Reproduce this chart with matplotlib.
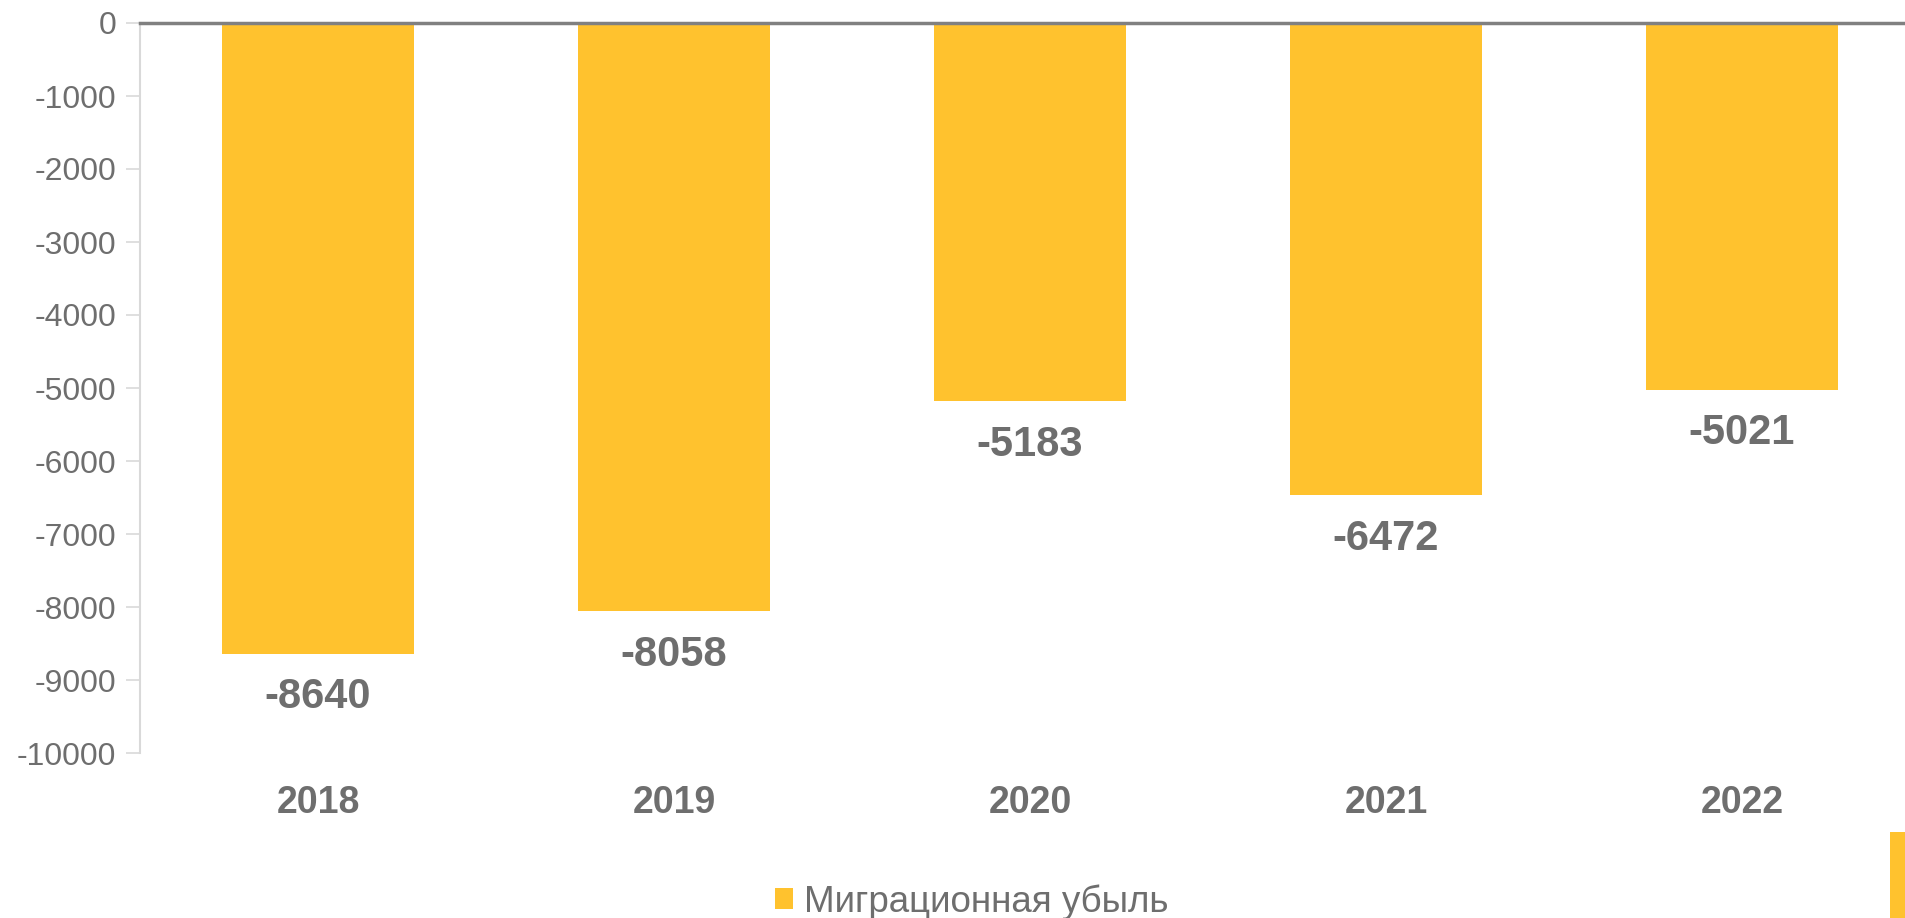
import matplotlib
matplotlib.use("Agg")
import matplotlib.pyplot as plt
from matplotlib.patches import Rectangle

years = ["2018", "2019", "2020", "2021", "2022"]
values = [-8640, -8058, -5183, -6472, -5021]
yticks = list(range(0, -10001, -1000))
series_name = "Миграционная убыль"

bar_color = "#FFC22E"
text_color = "#6E6E6E"

plt.rcParams['font.family'] = ['Liberation Sans', 'DejaVu Sans']

fig = plt.figure(figsize=(19.05, 9.18), dpi=100)
ax = fig.add_axes([140/1905, 1-753/918, 1780/1905, (753-23)/918])

x = list(range(len(years)))
ax.bar(x, values, width=0.54, color=bar_color, label=series_name, zorder=2)

ax.set_xlim(-0.5, 4.5)
ax.set_ylim(-10000, 0)
ax.set_yticks(yticks)
ax.set_yticklabels([str(v) for v in yticks], fontsize=23, color=text_color)
ax.tick_params(axis='y', length=10, width=1.2, color="#D9D9D9", pad=7)
ax.set_xticks([])

for s in ["top", "right", "bottom"]:
    ax.spines[s].set_visible(False)
ax.spines["left"].set_color("#D9D9D9")
ax.spines["left"].set_linewidth(1.5)

ax.axhline(0, color="#808080", lw=2.5, zorder=3, clip_on=False)

for xi, v in zip(x, values):
    ax.annotate(str(v), (xi, v), xytext=(0, -31.5), textcoords="offset points",
                ha="center", va="center", fontsize=30, fontweight="bold",
                color=text_color)
    ax.annotate(years[xi], (xi, -10000), xytext=(0, -36), textcoords="offset points",
                ha="center", va="center", fontsize=27, fontweight="bold",
                color=text_color, annotation_clip=False)

leg = fig.legend(loc="center", bbox_to_anchor=(972/1905, 1-902/918), frameon=False,
                 fontsize=26.5, handlelength=0.5, handleheight=0.5, handletextpad=0.3,
                 labelcolor=text_color)

fig.patches.append(Rectangle((1890/1905, 0), 15/1905, 86/918, transform=fig.transFigure,
                             facecolor=bar_color, edgecolor="none"))

fig.savefig("out.png", dpi=100)
